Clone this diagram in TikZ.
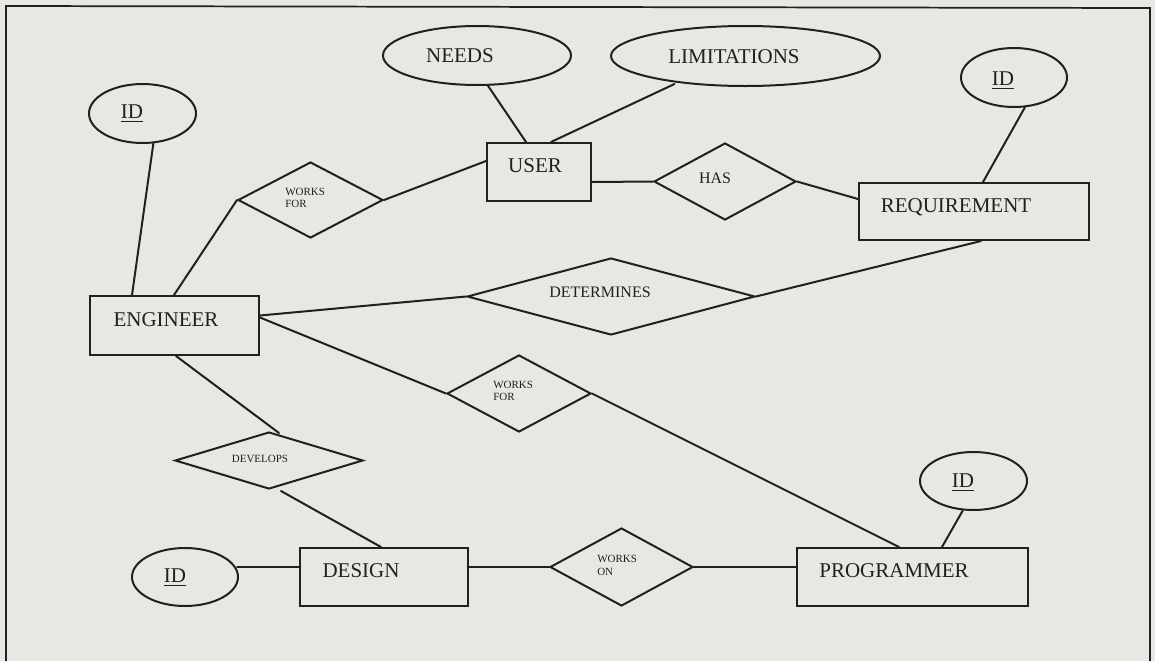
\documentclass[tikz,border=0pt]{standalone}
\usepackage{fontspec}
\setmainfont{Liberation Serif}
\usetikzlibrary{shapes.geometric,calc}
\definecolor{paper}{RGB}{232,232,226}
\definecolor{ink}{RGB}{36,30,30}
% one drawing unit in points
\newcommand\pu{0.75pt}
% key attribute: text with a rule under it
\newcommand\keyname[1]{\vtop{\hbox{#1}\kern 2.2pt\hrule height 1.1pt}}
\begin{document}
\begin{tikzpicture}[x=0.75pt,y=-0.75pt,
  edge/.style={draw=ink,line width=1.5pt,line cap=round},
  entity/.style={draw=ink,line width=1.5pt,rectangle,inner sep=0pt},
  relation/.style={draw=ink,line width=1.5pt,diamond,inner sep=0pt},
  attribute/.style={draw=ink,line width=1.5pt,ellipse,inner sep=0pt},
  bigtext/.style={text=ink,inner sep=0pt,anchor=base,font=\fontsize{15.75}{18}\selectfont},
  midtext/.style={text=ink,inner sep=0pt,anchor=base,font=\fontsize{12}{14}\selectfont},
  smalltext/.style={text=ink,inner sep=0pt,anchor=base west,font=\fontsize{8.25}{9}\selectfont}]

% paper and frame
\useasboundingbox (0,0) rectangle (1155,661);
\fill[paper] (0,0) rectangle (1155,661);
\draw[draw=ink,line width=1.3pt] (6,661) -- (6,6) -- (1150,8) -- (1150,661);

% entities
\node[entity,minimum width=104*\pu,minimum height=58*\pu] (user) at (539,172) {};
\node[entity,minimum width=230*\pu,minimum height=57*\pu] (req) at (974,211.5) {};
\node[entity,minimum width=169*\pu,minimum height=59*\pu] (eng) at (174.5,325.5) {};
\node[entity,minimum width=168*\pu,minimum height=58*\pu] (design) at (384,577) {};
\node[entity,minimum width=231*\pu,minimum height=58*\pu] (prog) at (912.5,577) {};

% relationships
\node[relation,minimum width=145*\pu,minimum height=76*\pu] (wf1) at (310.5,200) {};
\node[relation,minimum width=142*\pu,minimum height=77*\pu] (has) at (725,181.5) {};
\node[relation,minimum width=288*\pu,minimum height=77*\pu] (det) at (611,296.5) {};
\node[relation,minimum width=144*\pu,minimum height=77*\pu] (wf2) at (519,393.5) {};
\node[relation,minimum width=188*\pu,minimum height=57*\pu] (dev) at (269,460.5) {};
\node[relation,minimum width=143*\pu,minimum height=78*\pu] (won) at (621.5,567) {};

% attributes
\node[attribute,minimum width=107*\pu,minimum height=59*\pu] (id1) at (142.5,113.5) {};
\node[attribute,minimum width=188*\pu,minimum height=59*\pu] (needs) at (477,55.5) {};
\node[attribute,minimum width=269*\pu,minimum height=60*\pu] (limits) at (745.5,56) {};
\node[attribute,minimum width=106*\pu,minimum height=59*\pu] (id2) at (1014,77.5) {};
\node[attribute,minimum width=106*\pu,minimum height=58*\pu] (id3) at (185,577) {};
\node[attribute,minimum width=107*\pu,minimum height=58*\pu] (id4) at (973.5,481) {};

% labels
\node[bigtext] (tuser) at (535,172) {USER};
\node[bigtext] (treq) at (956,212) {REQUIREMENT};
\node[bigtext] (teng) at (166,326) {ENGINEER};
\node[bigtext] (tdesign) at (361,577) {DESIGN};
\node[bigtext] (tprog) at (894,577) {PROGRAMMER};
\node[bigtext] (tneeds) at (460,62) {NEEDS};
\node[bigtext] (tlimits) at (734,63) {LIMITATIONS};
\node[bigtext] (tid1) at (132,118) {\keyname{ID}};
\node[bigtext] (tid2) at (1003,85) {\keyname{ID}};
\node[bigtext] (tid3) at (175,582) {\keyname{ID}};
\node[bigtext] (tid4) at (963,487) {\keyname{ID}};
\node[midtext] (thas) at (715,183) {HAS};
\node[midtext] (tdet) at (600,297) {DETERMINES};
\node[smalltext,anchor=base] (tdev) at (260,462) {DEVELOPS};
\node[smalltext] (twf1a) at (285,195) {WORKS};
\node[smalltext] (twf1b) at (285,207) {FOR};
\node[smalltext] (twf2a) at (493,388) {WORKS};
\node[smalltext] (twf2b) at (493,400) {FOR};
\node[smalltext] (twona) at (597,562) {WORKS};
\node[smalltext] (twonb) at (597,575) {ON};

% connectors
\draw[edge] (id1.-70) -- ($(eng.north west)+(43,0)$);
\draw[edge] ($(eng.north west)+(85,0)$) -- (wf1.west);
\draw[edge] (wf1.east) -- ($(user.north west)+(0,19)$);
\draw[edge] (needs.-70) -- ($(user.north west)+(40,0)$);
\draw[edge] ($(limits.center)+(-71,28)$) -- ($(user.north west)+(65,0)$);
\draw[edge] ($(user.south east)+(0,-20)$) -- (has.west);
\draw[edge] (has.east) -- ($(req.north west)+(0,17)$);
\draw[edge] (id2.-70) -- ($(req.north west)+(125,0)$);
\draw[edge] ($(req.south west)+(123,0)$) -- (det.east);
\draw[edge] ($(eng.east)+(0,-10)$) -- (det.west);
\draw[edge] ($(eng.east)+(0,-8)$) -- (wf2.west);
\draw[edge] (wf2.east) -- ($(prog.north west)+(103,0)$);
\draw[edge] ($(eng.south west)+(87,0)$) -- ($(dev.north)+(10,2)$);
\draw[edge] ($(dev.south)+(12,1)$) -- ($(design.north west)+(82,0)$);
\draw[edge] ($(id3.center)+(52,-10)$) -- ($(design.west)+(0,-10)$);
\draw[edge] ($(design.east)+(0,-10)$) -- (won.west);
\draw[edge] (won.east) -- ($(prog.west)+(0,-10)$);
\draw[edge] (id4.-110) -- ($(prog.north west)+(146,0)$);
\end{tikzpicture}
\end{document}
